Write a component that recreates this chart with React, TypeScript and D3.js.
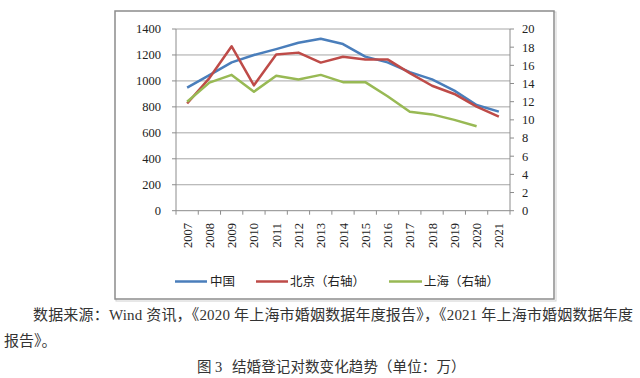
import React from "react";
import * as d3 from "d3";

const years = ["2007","2008","2009","2010","2011","2012","2013","2014","2015","2016","2017","2018","2019","2020","2021"];
const china = [948, 1045, 1143, 1200, 1245, 1294, 1325, 1284, 1187, 1143, 1068, 1012, 925, 814, 763];
const beijing = [11.8, 14.6, 18.1, 13.8, 17.2, 17.4, 16.3, 16.95, 16.65, 16.65, 15.15, 13.75, 12.85, 11.45, 10.35];
const shanghai: (number | null)[] = [12.0, 14.1, 14.95, 13.1, 14.85, 14.45, 14.95, 14.15, 14.15, 12.6, 10.9, 10.6, 10.0, 9.3, null];
const leftTicks = [0, 200, 400, 600, 800, 1000, 1200, 1400];
const rightTicks = [0, 2, 4, 6, 8, 10, 12, 14, 16, 18, 20];
const legendNames = ["中国", "北京（右轴）", "上海（右轴）"];
const colors = ["#4A7EBB", "#BE4B48", "#98B954"];
const sourceLine1 = "数据来源：Wind 资讯，《2020 年上海市婚姻数据年度报告》，《2021 年上海市婚姻数据年度";
const sourceLine2 = "报告》。";
const captionHead = "图 3";
const captionBody = "结婚登记对数变化趋势（单位：万）";

export default function App() {
  const W = 640, H = 378;
  const x0 = 176, x1 = 510, yTop = 29, yBot = 210.7;
  const x = d3.scaleBand<string>().domain(years).range([x0, x1]);
  const yL = d3.scaleLinear().domain([0, 1400]).range([yBot, yTop]);
  const yR = d3.scaleLinear().domain([0, 20]).range([yBot, yTop]);
  const cx = (d: string) => (x(d) as number) + x.bandwidth() / 2;

  const lineL = d3.line<number>().x((_, i) => cx(years[i])).y(v => yL(v));
  const lineR = d3.line<number | null>()
    .defined(v => v != null)
    .x((_, i) => cx(years[i]))
    .y(v => yR(v as number));

  const serif = "'Liberation Serif', 'Times New Roman', 'Noto Sans CJK SC', serif";
  const cjk = "'Noto Sans CJK SC', sans-serif";
  const serifCjk = "'Liberation Serif', 'Noto Sans CJK SC', serif";
  const gray = "#8c8c8c";

  const boundaries = d3.range(years.length + 1).map(i => x0 + i * x.step());

  const legendItems = [
    { lx: 175, tx: 210, w: 32 },
    { lx: 256, tx: 290, w: 32 },
    { lx: 389, tx: 424, w: 33 },
  ];

  return (
    <svg width={W} height={H} style={{ position: "absolute", left: 0, top: 0, background: "#fff" }}>
      <rect x={0} y={0} width={W} height={H} fill="#fff" />
      <rect x={116} y={12} width={440} height={289} fill="none" stroke="#d0d0d0" strokeWidth={1} />
      <rect x={115} y={11} width={439} height={288} fill="#fff" stroke={gray} strokeWidth={1.5} />

      {leftTicks.map(t => (
        <line key={"g" + t} x1={x0} x2={x1} y1={yL(t)} y2={yL(t)} stroke={t === 0 ? gray : "#a6a6a6"} strokeWidth={1} />
      ))}
      <line x1={x0} x2={x0} y1={yTop} y2={yBot} stroke={gray} />
      <line x1={x1} x2={x1} y1={yTop} y2={yBot} stroke={gray} />
      {leftTicks.map(t => (
        <g key={"lt" + t}>
          <line x1={x0 - 4} x2={x0} y1={yL(t)} y2={yL(t)} stroke={gray} />
          <text x={161} y={yL(t)} dy="0.35em" textAnchor="end" fontFamily={serif} fontSize={12.5} fill="#222">{t}</text>
        </g>
      ))}
      {rightTicks.map(t => (
        <g key={"rt" + t}>
          <line x1={x1} x2={x1 + 4} y1={yR(t)} y2={yR(t)} stroke={gray} />
          <text x={522} y={yR(t)} dy="0.35em" textAnchor="start" fontFamily={serif} fontSize={12.5} fill="#222">{t}</text>
        </g>
      ))}
      {boundaries.map((b, i) => (
        <line key={"xt" + i} x1={b} x2={b} y1={yBot} y2={yBot + 4} stroke={gray} />
      ))}
      {years.map(yv => (
        <text key={yv} transform={`translate(${cx(yv) + 4.5},223) rotate(-90)`} textAnchor="end" fontFamily={serif} fontSize={12.5} fill="#222">{yv}</text>
      ))}

      <path d={lineL(china) || ""} fill="none" stroke={colors[0]} strokeWidth={2.5} strokeLinejoin="round" />
      <path d={lineR(beijing) || ""} fill="none" stroke={colors[1]} strokeWidth={2.5} strokeLinejoin="round" />
      <path d={lineR(shanghai) || ""} fill="none" stroke={colors[2]} strokeWidth={2.5} strokeLinejoin="round" />

      {legendNames.map((n, i) => (
        <g key={n}>
          <line x1={legendItems[i].lx} x2={legendItems[i].lx + legendItems[i].w} y1={281.5} y2={281.5} stroke={colors[i]} strokeWidth={2.5} />
          <text x={legendItems[i].tx} y={281.5} dy="0.36em" fontFamily={cjk} fontSize={12.5} fill="#222">{n}</text>
        </g>
      ))}

      <text x={33} y={320} fontFamily={serifCjk} fontSize={15} fill="#333" textLength={600} lengthAdjust="spacing">{sourceLine1}</text>
      <text x={4} y={346} fontFamily={serifCjk} fontSize={15} fill="#333">{sourceLine2}</text>
      <text x={197} y={372} fontFamily={serifCjk} fontSize={14.5} fill="#333">{captionHead}</text>
      <text x={232} y={372} fontFamily={serifCjk} fontSize={14.5} fill="#333" letterSpacing={0.1}>{captionBody}</text>
    </svg>
  );
}
